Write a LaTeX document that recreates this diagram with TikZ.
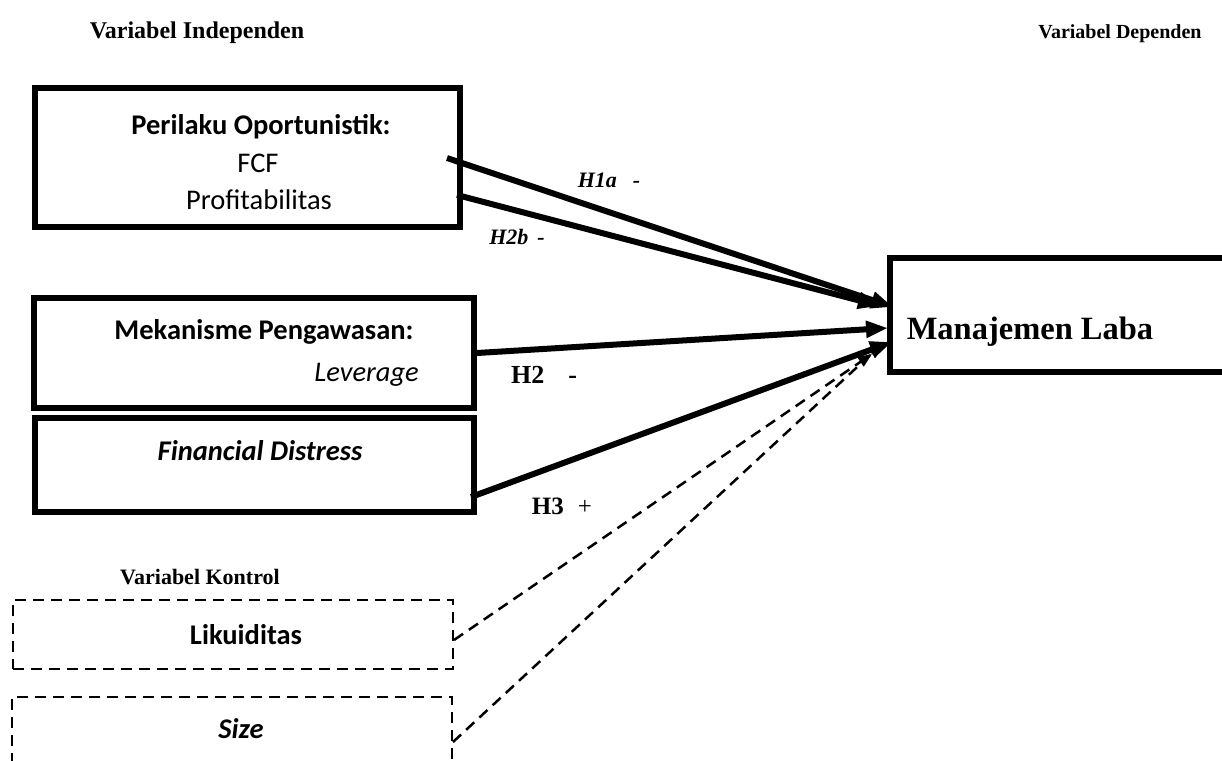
\documentclass[tikz,border=0pt]{standalone}
\usepackage{fontspec}
\setmainfont{Liberation Serif}
\newfontfamily\calib{Carlito}
\usetikzlibrary{arrows.meta}
\begin{document}
\begin{tikzpicture}[x=1pt,y=-1pt,
  thickbox/.style={draw,line width=6pt,inner sep=0pt},
  dashbox/.style={draw,line width=2.5pt,dash pattern=on 11pt off 7pt,inner sep=0pt},
  boxtxt/.style={anchor=base,inner sep=0pt,font=\calib\fontsize{28.5}{34}\selectfont},
  ttl/.style={anchor=base,inner sep=0pt},
  arr/.style={line width=6pt,-{Triangle[length=22pt,width=16pt]}},
  darr/.style={line width=2.5pt,dash pattern=on 11pt off 7pt,-{Triangle[length=14pt,width=11pt]}}
]
\clip (0,0) rectangle (1222,760);
\fill[white] (0,0) rectangle (1222,760);

% titles
\node[ttl,font=\bfseries\fontsize{24}{28}\selectfont] (tind) at (197,38) {Variabel Independen};
\node[ttl,font=\bfseries\fontsize{20}{24}\selectfont] (tdep) at (1120,38) {Variabel Dependen};
\node[ttl,font=\bfseries\fontsize{22}{26}\selectfont] (tkon) at (200,584) {Variabel Kontrol};

% boxes
\node[thickbox,minimum width=425pt,minimum height=139pt] (b1) at (247.5,157.5) {};
\node[thickbox,minimum width=440pt,minimum height=110pt] (b2) at (254,353) {};
\node[thickbox,minimum width=439pt,minimum height=94pt] (b3) at (254.5,465) {};
\node[thickbox,minimum width=350pt,minimum height=114pt] (ml) at (1065,315) {};
\node[dashbox,minimum width=440pt,minimum height=69pt] (liq) at (233,634.5) {};
\node[dashbox,minimum width=440pt,minimum height=90pt] (siz) at (232,742) {};

% box texts
\node[boxtxt,font=\calib\bfseries\fontsize{28.5}{34}\selectfont] (t1) at (261,134) {Perilaku Oportunistik:};
\node[boxtxt] (t2) at (258,172) {FCF};
\node[boxtxt] (t3) at (259,209) {Profitabilitas};
\node[boxtxt,font=\calib\bfseries\fontsize{28.5}{34}\selectfont] (t4) at (264,339) {Mekanisme Pengawasan:};
\node[boxtxt,anchor=base east,font=\calib\itshape\fontsize{28.5}{34}\selectfont] (t5) at (419,381) {Leverage};
\node[boxtxt,font=\calib\bfseries\itshape\fontsize{28.5}{34}\selectfont] (t6) at (260,460) {Financial Distress};
\node[boxtxt,font=\calib\bfseries\fontsize{28.5}{34}\selectfont] (t7) at (246,644) {Likuiditas};
\node[boxtxt,font=\calib\bfseries\itshape\fontsize{28.5}{34}\selectfont] (t8) at (241,738) {Size};
\node[ttl,font=\bfseries\fontsize{32.5}{38}\selectfont] (t9) at (1030,339) {Manajemen Laba};

% connector end points
\coordinate (s1) at (447,158);
\coordinate (e1) at (893,307);
\coordinate (s2) at (457,195);
\coordinate (e2) at (880,306);
\coordinate (e3) at (888,328);
\coordinate (s4) at (471,497);
\coordinate (e4) at (892,342);
\coordinate (s5) at (454,640);
\coordinate (e5) at (872,354);
\coordinate (s6) at (453,742);
\coordinate (e6) at (882,344);

\draw[arr] (s1) -- (e1);
\draw[arr] (s2) -- (e2);
\draw[arr] (b2.east) -- (e3);
\draw[arr] (s4) -- (e4);
\draw[darr] (s5) -- (e5);
\draw[darr] (s6) -- (e6);

% labels
\node[ttl,font=\bfseries\itshape\fontsize{22}{26}\selectfont] (l1) at (609,187) {H1a\hspace{16pt}-};
\node[ttl,font=\bfseries\itshape\fontsize{22}{26}\selectfont] (l2) at (517,244) {H2b\hspace{9pt}-};
\node[ttl,font=\bfseries\fontsize{26}{30}\selectfont] (l3) at (544,383) {H2\hspace{24pt}-};
\node[ttl,font=\fontsize{25}{29}\selectfont] (l4) at (562,514) {\textbf{H3}\hspace{14pt}+};
\end{tikzpicture}
\end{document}
